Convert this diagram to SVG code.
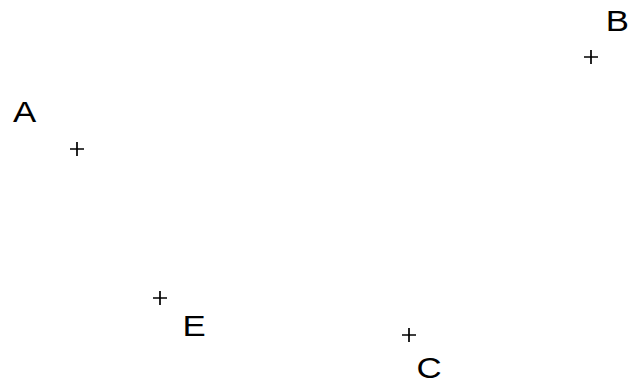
<svg xmlns="http://www.w3.org/2000/svg" width="629" height="383" viewBox="0 0 629 383">
<style>
.pt{stroke:#000;stroke-width:1.7;fill:none}
.lbl{font-family:"Liberation Sans",Arial,sans-serif;font-size:29px;fill:#000}
</style>
<defs>
<path id="plus" class="pt" d="M-7,0H7M0,-7V7"/>
</defs>
<rect width="629" height="383" fill="#fff"/>
<g id="A"><use href="#plus" x="77" y="149"/><text class="lbl" transform="translate(13,122) scale(1.2,1)">A</text></g>
<g id="B"><use href="#plus" x="591" y="57"/><text class="lbl" transform="translate(605.8,30.5) scale(1.2,1)">B</text></g>
<g id="E"><use href="#plus" x="160" y="298"/><text class="lbl" transform="translate(182.5,336) scale(1.2,1)">E</text></g>
<g id="C"><use href="#plus" x="409" y="335"/><text class="lbl" transform="translate(416.6,377.5) scale(1.2,1)">C</text></g>
<g id="connectors"></g>
</svg>
